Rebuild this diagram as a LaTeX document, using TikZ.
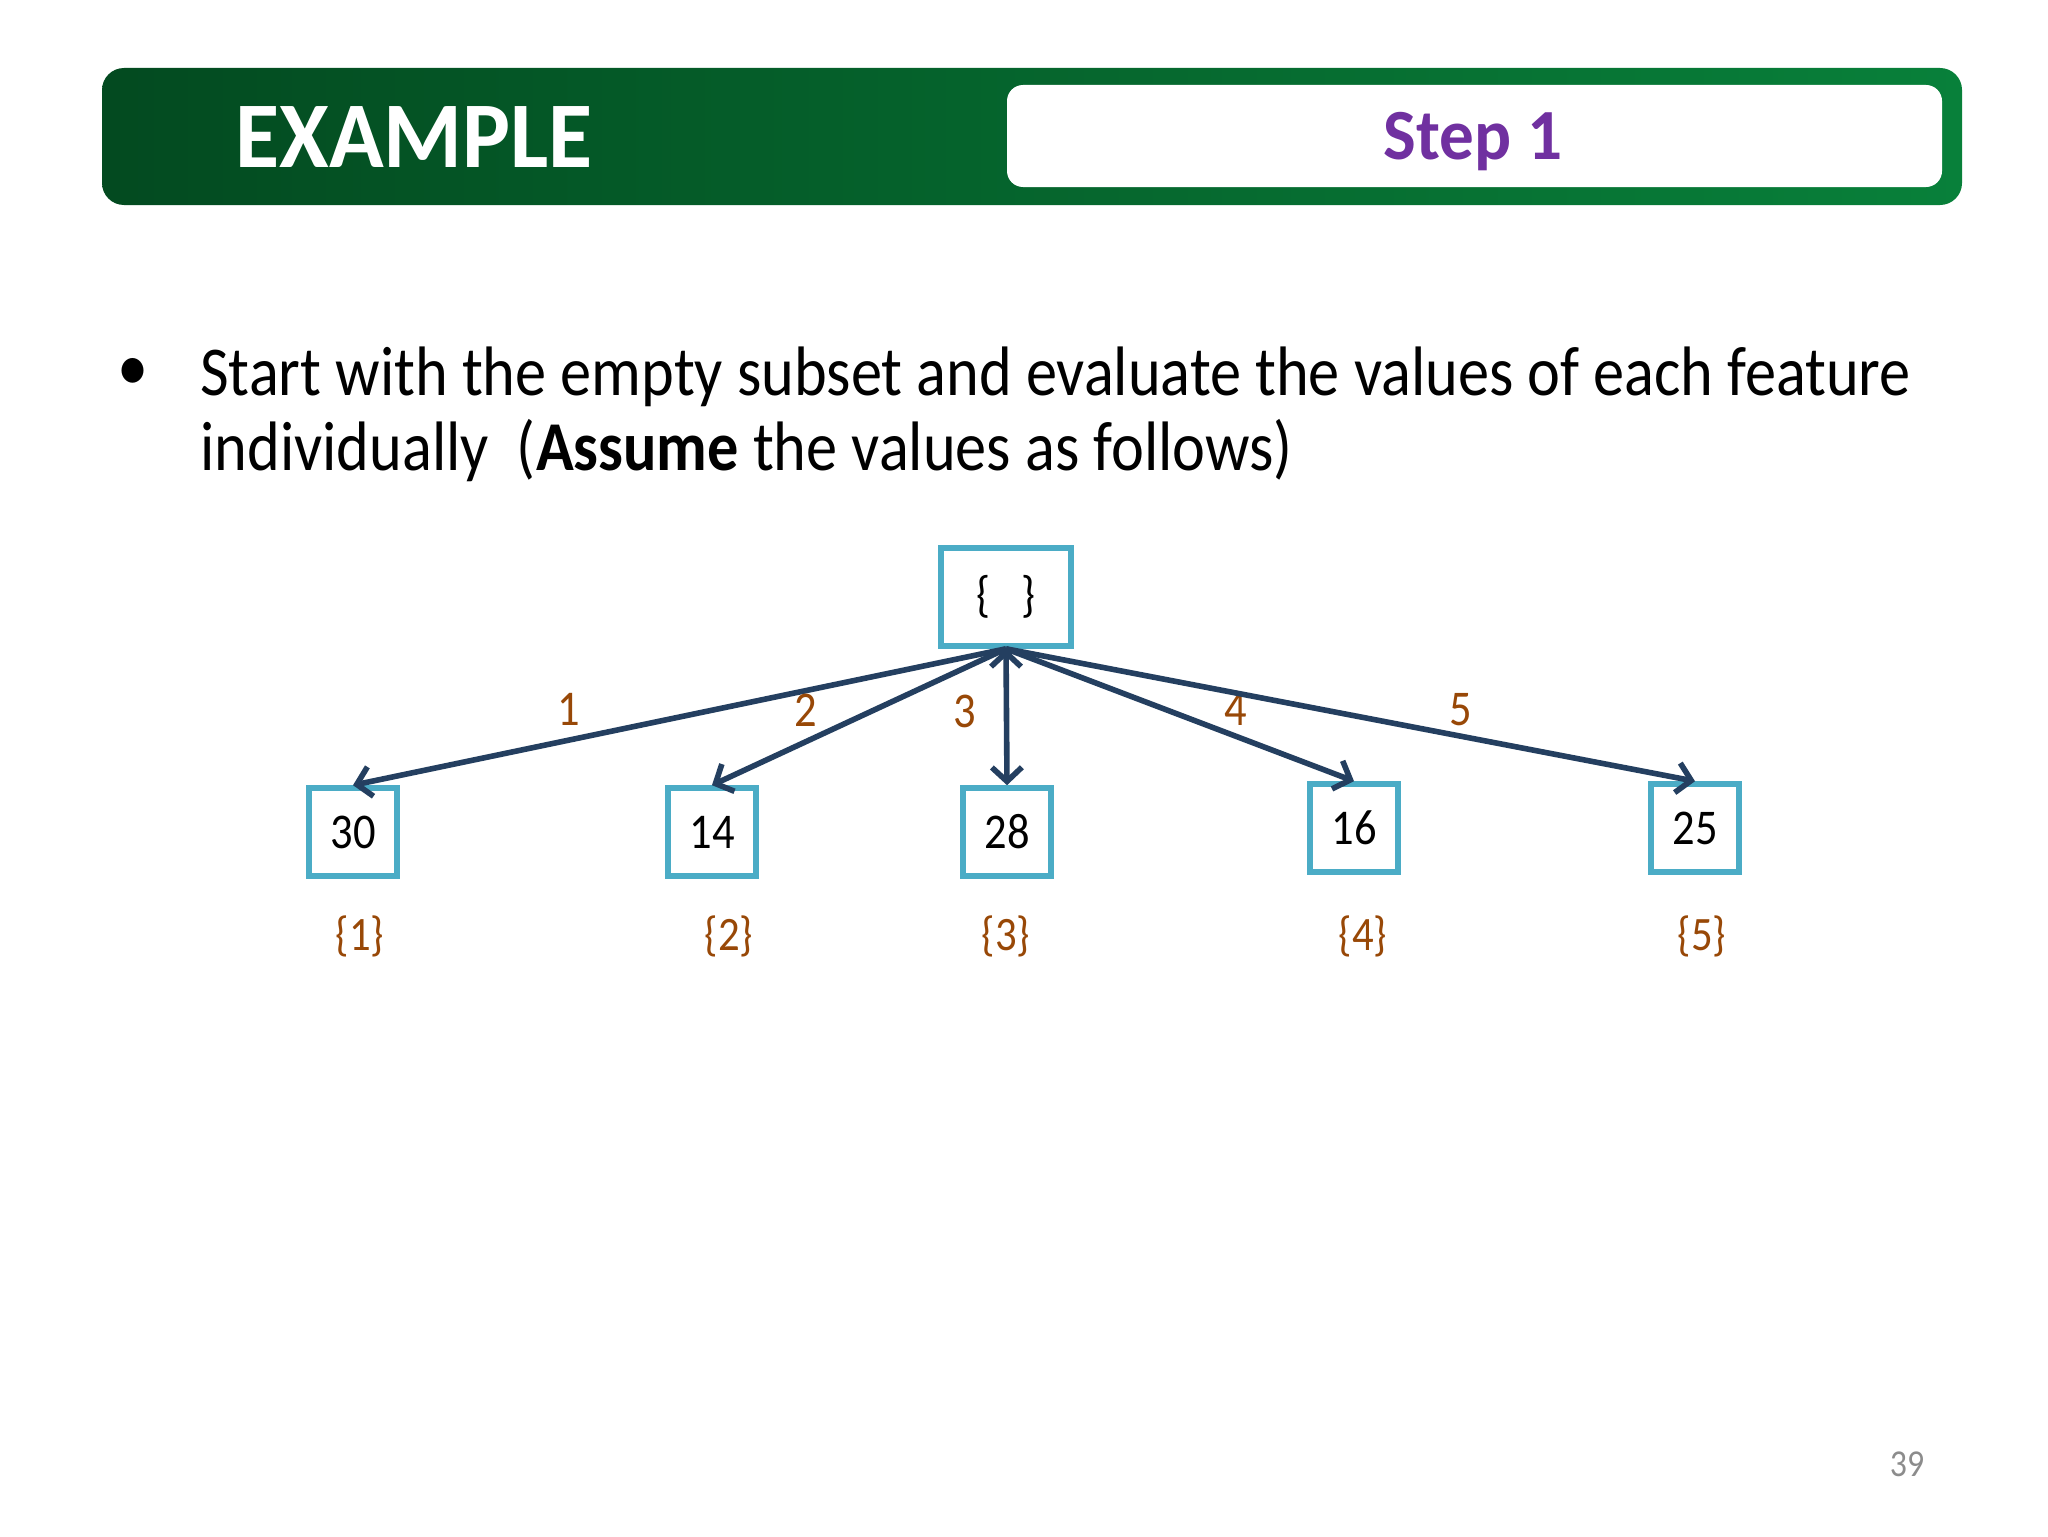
\documentclass[tikz,border=0pt]{standalone}
\usepackage{fontspec}
\setmainfont[FakeStretch=0.89]{Carlito}
\newfontfamily\hdrfont[FakeStretch=0.96]{Carlito}
\usetikzlibrary{arrows.meta,positioning}

\definecolor{hdrdark}{HTML}{034A20}
\definecolor{hdrlight}{HTML}{08803A}
\definecolor{stepviolet}{HTML}{7030A0}
\definecolor{boxblue}{HTML}{4BACC6}
\definecolor{arrownavy}{HTML}{243F60}
\definecolor{labelbrown}{HTML}{984807}
\definecolor{pagegray}{HTML}{8C8C8C}

\begin{document}
\begin{tikzpicture}[x=0.5pt,y=-0.5pt,
  every node/.style={inner sep=0pt},
  setbox/.style={draw=boxblue,line width=2.8pt,fill=white,minimum width=44pt,
    minimum height=44pt,font=\fontsize{25}{30}\selectfont},
  link/.style={-{Straight Barb[length=7pt,width=15pt]},draw=arrownavy,line width=2.8pt},
  edgelabel/.style={text=labelbrown,font=\fontsize{25}{30}\selectfont}]

  \useasboundingbox[fill=white] (0,0) rectangle (2048,1536);

  % header bar
  \shade[left color=hdrdark,right color=hdrlight,rounded corners=11pt]
    (102,68) rectangle (1962,205);
  \fill[white,rounded corners=8pt] (1007,85) rectangle (1942,187);
  \node (title) [anchor=base west,text=white,font=\hdrfont\bfseries\fontsize{47}{56}\selectfont]
    at (235,167) {EXAMPLE};
  \node (step) [anchor=base,text=stepviolet,font=\hdrfont\bfseries\fontsize{36}{44}\selectfont]
    at (1473,159) {Step 1};

  % bullet
  \node (dot) [font=\fontsize{35}{42}\selectfont] at (133,374) {\textbullet};
  \node (line1) [anchor=base west,font=\fontsize{35}{42}\selectfont] at (200,395)
    {Start with the empty subset and evaluate the values of each feature};
  \node (line2) [anchor=base west,font=\fontsize{35}{42}\selectfont] at (200,470)
    {individually\ \ (\textbf{Assume} the values as follows)};

  % subsets
  \node (root) [setbox,minimum width=65pt,minimum height=49pt] at (1006,597) {\{\ \ \ \}};
  \node (n1) [setbox] at (353,832)  {30};
  \node (n2) [setbox] at (712,832)  {14};
  \node (n3) [setbox] at (1007,832) {28};
  \node (n4) [setbox] at (1354,828) {16};
  \node (n5) [setbox] at (1695,828) {25};

  \path[link]
    (root.south) edge node [edgelabel,pos=0.67,above=6pt] {1} (n1.north)
                 edge node [edgelabel,pos=0.68,above=6pt] {2} (n2.north)
                 edge node [edgelabel,pos=0.46,left=14pt]  {3} (n3.north)
                 edge node [edgelabel,pos=0.66,above=4pt] {4} (n4.north)
                 edge node [edgelabel,pos=0.66,above=4pt] {5} (n5.north);

  \node (s1) [edgelabel,font=\fontsize{24}{28}\selectfont] at (360,936)  {\{1\}};
  \node (s2) [edgelabel,font=\fontsize{24}{28}\selectfont] at (729,936)  {\{2\}};
  \node (s3) [edgelabel,font=\fontsize{24}{28}\selectfont] at (1006,936) {\{3\}};
  \node (s4) [edgelabel,font=\fontsize{24}{28}\selectfont] at (1363,936) {\{4\}};
  \node (s5) [edgelabel,font=\fontsize{24}{28}\selectfont] at (1702,936) {\{5\}};

  \node (page) [text=pagegray,font=\fontsize{19}{23}\selectfont] at (1907,1464) {39};

\end{tikzpicture}
\end{document}
